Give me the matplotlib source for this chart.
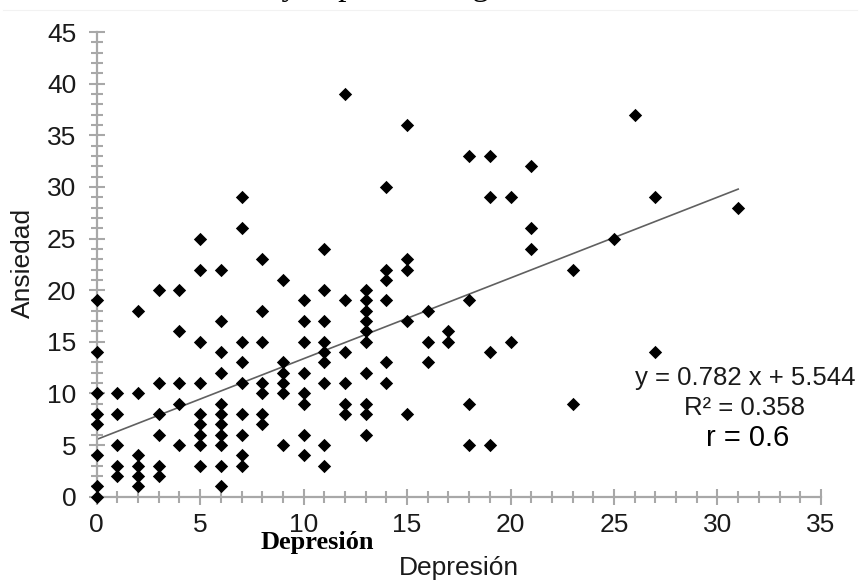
#!/usr/bin/python3
#
# plot.py: Dispersión Depresión x Ansiedad con recta de regresión lineal.
#
#   Reproduce la figura estática (out.png, 860x581 px).

import matplotlib
matplotlib.use("Agg")  # backend sin display
import matplotlib.pyplot as plt
from matplotlib.lines import Line2D
from matplotlib.ticker import MultipleLocator
import numpy as np

plt.rcParams.update({
    "font.family": ["Liberation Sans", "DejaVu Sans"],
    "font.size": 19,
})

# --- datos (una fila por valor de depresión) -------------------------------
depresion = [
    0, 0, 0, 0, 0, 0, 0, 0,
    1, 1, 1, 1, 1,
    2, 2, 2, 2, 2, 2,
    3, 3, 3, 3, 3, 3,
    4, 4, 4, 4, 4,
    5, 5, 5, 5, 5, 5, 5, 5, 5,
    6, 6, 6, 6, 6, 6, 6, 6, 6, 6, 6,
    7, 7, 7, 7, 7, 7, 7, 7, 7,
    8, 8, 8, 8, 8, 8, 8,
    9, 9, 9, 9, 9, 9,
    10, 10, 10, 10, 10, 10, 10, 10,
    11, 11, 11, 11, 11, 11, 11, 11, 11,
    12, 12, 12, 12, 12, 12,
    13, 13, 13, 13, 13, 13, 13, 13, 13, 13,
    14, 14, 14, 14, 14, 14,
    15, 15, 15, 15, 15,
    16, 16, 16,
    17, 17,
    18, 18, 18, 18,
    19, 19, 19, 19,
    20, 20,
    21, 21, 21,
    23, 23,
    25,
    26,
    27, 27,
    31,
]
ansiedad = [
    0, 1, 4, 7, 8, 10, 14, 19,
    2, 3, 5, 8, 10,
    1, 2, 3, 4, 10, 18,
    2, 3, 6, 8, 11, 20,
    5, 9, 11, 16, 20,
    3, 5, 6, 7, 8, 11, 15, 22, 25,
    1, 3, 5, 6, 7, 8, 9, 12, 14, 17, 22,
    3, 4, 6, 8, 11, 13, 15, 26, 29,
    7, 8, 10, 11, 15, 18, 23,
    5, 10, 11, 12, 13, 21,
    4, 6, 9, 10, 12, 15, 17, 19,
    3, 5, 11, 13, 14, 15, 17, 20, 24,
    8, 9, 11, 14, 19, 39,
    6, 8, 9, 12, 15, 16, 17, 18, 19, 20,
    11, 13, 19, 21, 22, 30,
    8, 17, 22, 23, 36,
    13, 15, 18,
    15, 16,
    5, 9, 19, 33,
    5, 14, 29, 33,
    15, 29,
    24, 26, 32,
    9, 22,
    25,
    37,
    14, 29,
    28,
]

# recta de tendencia (Excel) y correlación
pendiente = 0.782
intercepto = 5.544
r2 = 0.358
r = 0.6

_GRIS = "#a8a8a8"
_LINEA = "#606060"
_TEXTO = "#1a1a1a"

W, H = 860, 581


def _fx(px):
    return px / W


def _fy(py):
    return 1 - py / H


fig = plt.figure(figsize=(W / 100, H / 100), dpi=100)
ax = fig.add_axes([0.1124, 0.1451, 0.8422, 0.7998])

ax.scatter(depresion, ansiedad, marker="D", s=46, color="black",
           linewidths=0, zorder=3, clip_on=False)

xs = np.array([min(depresion), max(depresion)])
ax.plot(xs, pendiente * xs + intercepto, color=_LINEA, lw=1.2, zorder=2)

ax.set_xlim(0, 35)
ax.set_ylim(0, 45)
ax.xaxis.set_major_locator(MultipleLocator(5))
ax.xaxis.set_minor_locator(MultipleLocator(1))
ax.yaxis.set_major_locator(MultipleLocator(5))
ax.yaxis.set_minor_locator(MultipleLocator(1))

for lado in ("top", "right"):
    ax.spines[lado].set_visible(False)
for lado in ("left", "bottom"):
    ax.spines[lado].set_color(_GRIS)
    ax.spines[lado].set_linewidth(1.6)

ax.tick_params(which="both", direction="inout", color=_GRIS, width=1.5,
               labelcolor=_TEXTO)
ax.tick_params(which="major", length=11.5, labelsize=19)
ax.tick_params(which="minor", length=9)
ax.tick_params(axis="x", which="major", pad=6)
ax.tick_params(axis="y", which="major", pad=9)

ax.set_xlabel("Depresión", color=_TEXTO, va="center")
ax.xaxis.set_label_coords(0.5, -0.153)
ax.set_ylabel("Ansiedad", color=_TEXTO, va="center")
ax.yaxis.set_label_coords(-0.102, 0.503)

# ecuación de la recta, R² y r
ax.text(_fx(745), _fy(378), f"y = {pendiente} x + {intercepto}",
        transform=fig.transFigure, ha="center", va="center", fontsize=18.5,
        color=_TEXTO)
ax.text(_fx(745), _fy(408), f"R² = {r2}",
        transform=fig.transFigure, ha="center", va="center", fontsize=18.5,
        color=_TEXTO)
ax.text(_fx(748), _fy(438), f"r = {r}",
        transform=fig.transFigure, ha="center", va="center", fontsize=21,
        color="black")

# rótulo duplicado en negrita (serif)
fig.text(_fx(317), _fy(542), "Depresión", ha="center", va="center",
         family=["Liberation Serif"], fontweight="bold", fontsize=19,
         color="black")

# título recortado en el borde superior
fig.text(_fx(147), _fy(-5.5), "Ansiedad y depresión según sexo",
         ha="left", va="baseline", family=["Liberation Serif"], fontsize=24,
         color="black")
fig.add_artist(Line2D([0.004, 0.996], [_fy(10), _fy(10)],
                      transform=fig.transFigure, color="#f2f2f2", lw=0.8))

fig.savefig("out.png", dpi=100)
plt.close(fig)
